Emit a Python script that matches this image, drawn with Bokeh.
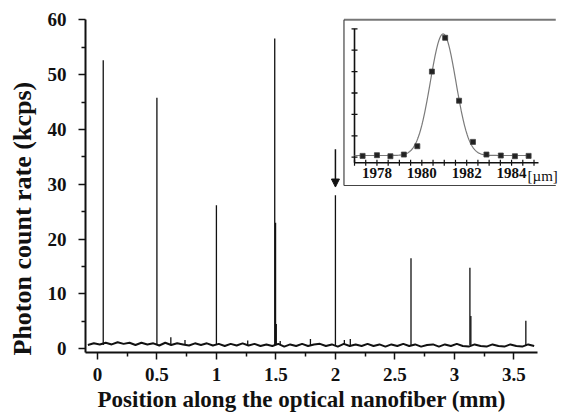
import numpy as np
from bokeh.plotting import figure
from bokeh.models import Range1d, FixedTicker, Arrow, NormalHead, Title
from bokeh.core.properties import value
from bokeh.embed import file_html
from bokeh.resources import INLINE

# ---------------- main trace data ----------------
base_start = -0.08
base_step = 0.05
base_rate = [0.7, 1.0, 0.8, 1.1, 0.8, 1.2, 0.9, 1.1, 0.7, 1.1,
             0.8, 1.0, 0.6, 1.1, 0.7, 1.0, 0.8, 0.6, 1.0, 0.7,
             1.0, 0.6, 0.9, 0.5, 0.9, 0.6, 1.0, 0.6, 0.9, 0.5,
             0.8, 0.5, 0.9, 0.4, 0.8, 0.5, 0.9, 0.5, 0.8, 0.9,
             0.5, 0.8, 0.4, 0.9, 0.5, 0.8, 0.5, 0.9, 0.5, 0.8,
             0.4, 0.8, 0.5, 0.9, 0.5, 0.8, 0.4, 0.7, 0.8, 0.4,
             0.8, 0.5, 0.9, 0.5, 0.4, 0.8, 0.5, 0.4, 0.8, 0.5,
             0.4, 0.8, 0.5, 0.4, 0.8, 0.5]
base_pos = [round(base_start + base_step * k, 3) for k in range(len(base_rate))]

spike_pos = [0.049, 0.5, 1.0, 1.49, 1.497, 1.503, 2.0, 2.635, 3.13, 3.138, 3.6,
             0.617, 0.736, 1.263, 1.536, 1.79, 2.075, 2.125]
spike_height = [52.6, 45.8, 26.2, 56.6, 23.0, 4.5, 28.0, 16.5, 14.8, 6.0, 5.1,
                2.1, 1.6, 1.5, 1.4, 1.8, 1.6, 1.8]
spike_base = 0.7

x_ticks = [0.0, 0.5, 1.0, 1.5, 2.0, 2.5, 3.0, 3.5]
x_tick_labels = ["0", "0.5", "1", "1.5", "2", "2.5", "3", "3.5"]
x_minor = [0.25, 0.75, 1.25, 1.75, 2.25, 2.75, 3.25]
y_ticks = [0, 10, 20, 30, 40, 50, 60]
y_minor = [5, 15, 25, 35, 45, 55]

x_title = "Position along the optical nanofiber (mm)"
y_title = "Photon count rate (kcps)"

# arrow marking the peak shown in the inset
arrow_x = 2.0
arrow_top = 36.4
arrow_tip = 29.5

# ---------------- inset data ----------------
inset_pos = [1977.36, 1978.0, 1978.6, 1979.2, 1979.8, 1980.45, 1981.04,
             1981.66, 1982.28, 1982.88, 1983.52, 1984.15, 1984.76]
inset_rate = [0.31, 0.47, 0.23, 0.62, 2.57, 20.0, 27.9,
              13.2, 3.58, 0.62, 0.39, 0.23, 0.31]
# Gaussian fit parameters
fit_offset = 0.4
fit_amp = 28.4
fit_center = 1980.95
fit_sigma = 0.57

inset_ticks = [1978, 1980, 1982, 1984]
inset_tick_labels = ["1978", "1980", "1982", "1984"]
inset_unit = "[\u00b5m]"
inset_minor = [1977 + 0.5 * k for k in range(17)]
inset_y_ticks = [0, 5, 10, 15, 20, 25, 30]

# inset ranges and layout (in inset coordinates)
ix_start, ix_end = 1965.01, 1986.27
iy_start, iy_end = -45.63, 33.81
inset_x0, inset_x1 = 1977.0, 1985.2
inset_y0, inset_y1 = -1.31, 30.0
box_left, box_right, box_bottom, box_top = 1976.53, ix_end - 0.3, -6.61, 32.1
label_y = -2.6

FONT = "Liberation Serif"
INK = "#111111"

p = figure(width=562, height=415,
           x_range=Range1d(-0.1, 3.908), y_range=Range1d(-0.675, 61.33),
           output_backend="svg", toolbar_location=None,
           min_border_left=85, min_border_right=0,
           min_border_top=12, min_border_bottom=63)
p.extra_x_ranges = {"ix": Range1d(ix_start, ix_end)}
p.extra_y_ranges = {"iy": Range1d(iy_start, iy_end)}

p.outline_line_color = None
p.xgrid.visible = False
p.ygrid.visible = False
p.background_fill_color = "white"
p.border_fill_color = "white"

xa = p.xaxis[0]
ya = p.yaxis[0]
xa.bounds = (-0.1, 3.7)
ya.bounds = (-0.675, 60)
xa.ticker = FixedTicker(ticks=x_ticks, minor_ticks=x_minor)
ya.ticker = FixedTicker(ticks=y_ticks, minor_ticks=y_minor)
xa.major_label_overrides = {t: l for t, l in zip(x_ticks, x_tick_labels)}

for ax in (xa, ya):
    ax.axis_line_width = 2
    ax.axis_line_color = INK
    ax.major_tick_line_width = 1.5
    ax.major_tick_line_color = INK
    ax.major_tick_out = 7
    ax.major_tick_in = 0
    ax.minor_tick_line_width = 1.5
    ax.minor_tick_line_color = INK
    ax.minor_tick_out = 4
    ax.minor_tick_in = 0
    ax.major_label_text_font = FONT
    ax.major_label_text_font_style = "bold"
    ax.major_label_text_font_size = "19px"
    ax.major_label_text_color = INK

xa.major_label_standoff = 8
ya.major_label_standoff = 12

# axis titles as side-panel titles
p.add_layout(Title(text=x_title, align="left", offset=12,
                   text_font=FONT, text_font_style="bold",
                   text_font_size="23px", text_color=INK, standoff=3),
             "below")
p.add_layout(Title(text=y_title, align="left", offset=-3,
                   vertical_align="top",
                   text_font=FONT, text_font_style="bold",
                   text_font_size="26px", text_color=INK, standoff=11),
             "left")

# main trace
p.line(base_pos, base_rate, line_color=INK, line_width=2.0)
p.segment(x0=spike_pos, y0=[spike_base] * len(spike_pos),
          x1=spike_pos, y1=spike_height, line_color=INK, line_width=1.3)

p.add_layout(Arrow(end=NormalHead(size=8, fill_color=INK, line_color=INK),
                   x_start=arrow_x, y_start=arrow_top,
                   x_end=arrow_x, y_end=arrow_tip,
                   line_width=1.5, line_color=INK))

# inset frame: top, left and bottom border lines
p.segment(x0=[box_left, box_left, box_left], y0=[box_top, box_bottom, box_bottom],
          x1=[box_right, box_left, box_right], y1=[box_top, box_top, box_bottom],
          line_color=["#777777", "#444444", "#444444"], line_width=[2.0, 1.2, 1.2],
          x_range_name="ix", y_range_name="iy")

# inset axes
p.segment(x0=[inset_x0, inset_x0], y0=[inset_y0, inset_y0],
          x1=[inset_x1, inset_x0], y1=[inset_y0, inset_y1],
          line_color=INK, line_width=1.6,
          x_range_name="ix", y_range_name="iy")
p.scatter(x=[inset_x0] * len(inset_y_ticks), y=inset_y_ticks, marker="dash",
          size=6, line_color=INK, line_width=1.3,
          x_range_name="ix", y_range_name="iy")
p.scatter(x=inset_minor, y=[inset_y0] * len(inset_minor), marker="dash",
          angle=np.pi / 2, size=6, line_color=INK, line_width=1.2,
          x_range_name="ix", y_range_name="iy")
p.text(x=inset_ticks, y=[label_y] * len(inset_ticks), text=inset_tick_labels,
       text_align="center", text_baseline="top",
       text_font=value(FONT), text_font_style="bold", text_font_size="15px",
       text_color=INK, x_range_name="ix", y_range_name="iy")
p.text(x=[inset_ticks[-1]], y=[label_y], text=[inset_unit], x_offset=16,
       text_align="left", text_baseline="top",
       text_font=value(FONT), text_font_size="15px",
       text_color=INK, x_range_name="ix", y_range_name="iy")

# inset fit curve and points
fit_x = np.linspace(inset_x0, inset_x1 - 0.4, 400)
fit_y = fit_offset + fit_amp * np.exp(-(fit_x - fit_center) ** 2 / (2 * fit_sigma ** 2))
p.line(fit_x, fit_y, line_color="#7a7a7a", line_width=1.2,
       x_range_name="ix", y_range_name="iy")
p.scatter(inset_pos, inset_rate, marker="square", size=5,
          fill_color="#222222", line_color="#444444", line_width=0.8,
          x_range_name="ix", y_range_name="iy")

open("out.html", "w").write(file_html(p, INLINE))
